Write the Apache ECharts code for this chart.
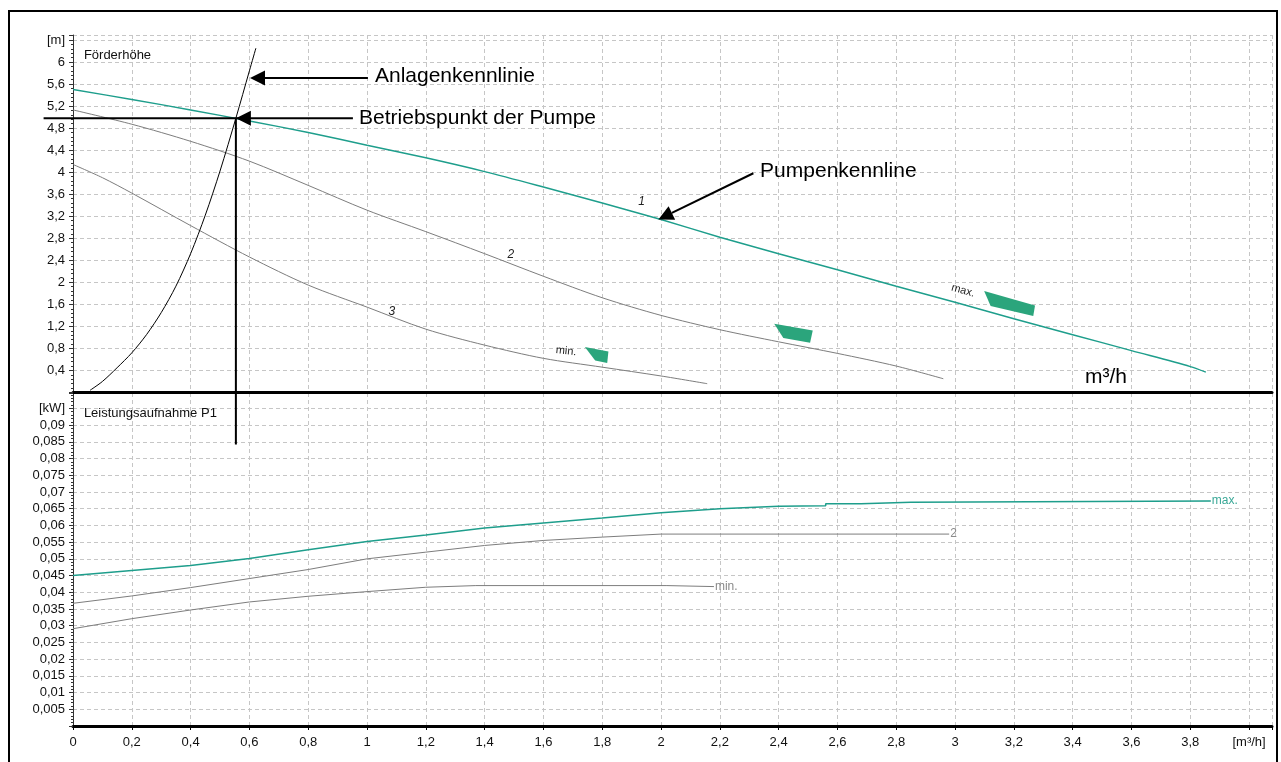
<!DOCTYPE html>
<html><head><meta charset="utf-8">
<script src="https://cdn.jsdelivr.net/npm/echarts@6/dist/echarts.min.js"></script>
<style>html,body{margin:0;padding:0;background:#fff}#c{width:1281px;height:762px}</style>
</head><body><div id="c"></div>
<script>
// ---------- axis / tick label data ----------
const xUnitLabel = '[m³/h]';
const headUnitLabel = '[m]';
const powerUnitLabel = '[kW]';
const headTitle = 'Förderhöhe';
const powerTitle = 'Leistungsaufnahme P1';

// ---------- pump curves H(Q): [Q m³/h, H m] ----------
const headMax = [[0,5.50],[0.2,5.32],[0.4,5.13],[0.6,4.93],[0.8,4.72],[1.0,4.49],[1.2,4.26],[1.4,4.01],[1.6,3.73],[1.8,3.44],[2.0,3.14],[2.2,2.82],[2.4,2.52],[2.6,2.23],[2.8,1.93],[3.0,1.64],[3.2,1.34],[3.4,1.05],[3.6,0.76],[3.8,0.47],[3.853,0.37]];
const head2 = [[0,5.13],[0.2,4.87],[0.4,4.56],[0.6,4.2],[0.8,3.76],[1.0,3.31],[1.2,2.92],[1.4,2.52],[1.6,2.11],[1.8,1.72],[2.0,1.4],[2.2,1.14],[2.4,0.92],[2.6,0.71],[2.8,0.48],[2.96,0.25]];
const head3 = [[0,4.14],[0.1,3.9],[0.2,3.62],[0.4,3.03],[0.6,2.46],[0.8,1.95],[1.0,1.55],[1.2,1.15],[1.4,0.86],[1.6,0.62],[1.8,0.46],[2.0,0.3],[2.157,0.16]];
const systemCurve = [[0.058,0.04],[0.1,0.2],[0.15,0.45],[0.2,0.72],[0.25,1.05],[0.3,1.45],[0.35,1.93],[0.4,2.52],[0.45,3.22],[0.5,4.02],[0.554,4.98],[0.6,5.84],[0.622,6.25]];

// ---------- power curves P1(Q): [Q m³/h, P kW] ----------
const powerMax = [[0,0.045],[0.2,0.0465],[0.4,0.048],[0.6,0.0501],[0.8,0.0527],[1.0,0.0552],[1.2,0.0571],[1.4,0.0592],[1.6,0.0607],[1.8,0.0622],[2.0,0.0638],[2.2,0.065],[2.4,0.0657],[2.56,0.0659],[2.56,0.0665],[2.68,0.0665],[2.68,0.0669],[2.85,0.0669],[2.85,0.0673],[3.87,0.0673]];
const power2 = [[0,0.0367],[0.2,0.0389],[0.4,0.0414],[0.6,0.0441],[0.8,0.0468],[1.0,0.05],[1.2,0.052],[1.4,0.054],[1.6,0.0555],[1.8,0.0565],[2.0,0.0574],[2.98,0.0574]];
const powerMin = [[0,0.0291],[0.2,0.0321],[0.4,0.0347],[0.6,0.0371],[0.8,0.0388],[1.0,0.0402],[1.2,0.0415],[1.37,0.042],[2.02,0.042],[2.02,0.0417],[2.18,0.0417]];

// ---------- efficiency markers (data coords Q,H) ----------
const effRegions = [
  [[3.099,1.842],[3.272,1.580],[3.266,1.388],[3.121,1.569]],
  [[2.385,1.248],[2.516,1.126],[2.507,0.903],[2.416,0.988]],
  [[1.741,0.825],[1.821,0.745],[1.817,0.534],[1.776,0.581]]
];

// ---------- curve labels (data coords) ----------
const headLabels = [
  {text:'1', at:[1.934,3.46]},
  {text:'2', at:[1.489,2.50]},
  {text:'3', at:[1.084,1.46]}
];
const headRangeLabels = [
  {text:'max.', at:[3.027,1.85], rot:-16},
  {text:'min.', at:[1.677,0.75], rot:-6}
];
const powerLabels = ['max.', '2', 'min.'];

// ---------- annotations (data coords) ----------
const operatingPoint = [0.554, 4.98];
const opLineLeftQ = -0.1;
const opLineRightQ = 0.952;
const opLineBottomP = 0.0842;
const opText = {text:'Betriebspunkt der Pumpe', at:[0.973, 4.98]};
const sysArrow = {tip:[0.602,5.71], tail:[1.003,5.71]};
const sysText = {text:'Anlagenkennlinie', at:[1.027,5.75]};
const pumpArrow = {tip:[1.991,3.14], tail:[2.314,3.98]};
const pumpText = {text:'Pumpenkennline', at:[2.337,4.02]};
const flowText = {text:'m³/h', at:[3.442,0.28]};
const headTitlePos = [0.037, 6.12];
const powerTitlePos = [0.037, 0.0935];

const FONT = "'Liberation Sans', Arial, Helvetica, sans-serif";
const TEAL = '#1e9e8c';
const GRAY = '#7d7d7d';
const GREEN = '#2ba57c';

function isMult(v, step){ const r = v/step; return Math.abs(r - Math.round(r)) < 1e-6; }
function fmt(v, d){ return String(+v.toFixed(d)).replace('.', ','); }

const chart = echarts.init(document.getElementById('c'), null, {renderer:'canvas'});
const split = {show:true, lineStyle:{color:'#c6c6c6', type:[4,3], width:1}};
const labelStyle = {fontFamily:FONT, fontSize:13, color:'#111'};

const lineS = (data, color, width, xi, smooth) => ({
  type:'line', data, xAxisIndex:xi, yAxisIndex:xi, symbol:'none', smooth: smooth,
  lineStyle:{color, width}, silent:true, animation:false, z:4
});

chart.setOption({
  backgroundColor:'#fff',
  animation:false,
  grid:[{left:73,right:9,top:35,height:357.5},{left:73,right:9,top:393,height:333}],
  xAxis:[
    {gridIndex:0,type:'value',min:0,max:4.078,interval:0.2,
     axisLine:{show:true,onZero:false,lineStyle:{color:'#000',width:3}},
     axisTick:{show:false},axisLabel:{show:false},splitLine:split},
    {gridIndex:1,type:'value',min:0,max:4.078,interval:0.2,
     axisLine:{show:true,onZero:false,lineStyle:{color:'#000',width:3}},
     axisTick:{show:true,length:4,lineStyle:{color:'#000'}},
     minorTick:{show:true,splitNumber:4,length:2,lineStyle:{color:'#000'}},
     axisLabel:Object.assign({margin:10,formatter:v=>{
       if(!isMult(v,0.2)) return '';
       if(Math.abs(v-4)<1e-6) return xUnitLabel;
       return fmt(v,1);
     }},labelStyle),
     splitLine:split}
  ],
  yAxis:[
    {gridIndex:0,type:'value',min:0,max:6.49,interval:0.4,
     axisLine:{show:true,lineStyle:{color:'#333',width:1}},
     axisTick:{show:true,length:4,lineStyle:{color:'#333'}},
     minorTick:{show:true,splitNumber:5,length:2,lineStyle:{color:'#333'}},
     axisLabel:Object.assign({margin:8,formatter:v=>{
       if(!isMult(v,0.4) || v<1e-9) return '';
       if(Math.abs(v-6.4)<1e-6) return headUnitLabel;
       return fmt(v,1);
     }},labelStyle),
     splitLine:split},
    {gridIndex:1,type:'value',min:0,max:0.0996,interval:0.005,
     axisLine:{show:true,lineStyle:{color:'#333',width:1}},
     axisTick:{show:true,length:4,lineStyle:{color:'#333'}},
     minorTick:{show:true,splitNumber:5,length:2,lineStyle:{color:'#333'}},
     axisLabel:Object.assign({margin:8,formatter:v=>{
       if(!isMult(v,0.005) || v<1e-9) return '';
       if(Math.abs(v-0.095)<1e-7) return powerUnitLabel;
       return fmt(v,3);
     }},labelStyle),
     splitLine:split}
  ],
  series:[
    lineS(head3, GRAY, 1, 0, 0.3),
    lineS(head2, GRAY, 1, 0, 0.3),
    lineS(headMax, TEAL, 1.5, 0, 0.3),
    lineS(systemCurve, '#000', 1, 0, 0.3),
    {type:'custom', xAxisIndex:0, yAxisIndex:0, silent:true, z:3,
     data: effRegions.map((r,i)=>[r[0][0], r[0][1], i]),
     renderItem:(params, api)=>{
       const r = effRegions[api.value(2)];
       return {type:'polygon', shape:{points:r.map(p=>api.coord(p))}, style:{fill:GREEN}};
     }},
    lineS(powerMin, GRAY, 1, 1, false),
    lineS(power2, GRAY, 1, 1, false),
    lineS(powerMax, TEAL, 1.5, 1, false)
  ]
});

// ---------- annotations through the axes' scales ----------
const P0 = p => chart.convertToPixel({gridIndex:0}, p);
const P1 = p => chart.convertToPixel({gridIndex:1}, p);
const g = [];
function text(str, pos, font, fill, align, rot, italic){
  g.push({type:'text', x:pos[0], y:pos[1], rotation:(rot||0)*Math.PI/180, z:60,
    style:{text:str, x:0, y:0, font:(italic?'italic ':'')+font+' '+FONT, fill:fill,
           textAlign:align||'left', textVerticalAlign:'middle'}});
}
function arrowHead(tip, tail){
  const dx = tail[0]-tip[0], dy = tail[1]-tip[1], L = Math.hypot(dx,dy);
  const ux = dx/L, uy = dy/L, len = 15, hw = 7.5;
  const bx = tip[0]+ux*len, by = tip[1]+uy*len;
  g.push({type:'polygon', z:61, shape:{points:[tip,[bx-uy*hw,by+ux*hw],[bx+uy*hw,by-ux*hw]]}, style:{fill:'#000'}});
  return [bx,by];
}
function line(a,b,w){
  g.push({type:'line', z:60, shape:{x1:a[0],y1:a[1],x2:b[0],y2:b[1]}, style:{stroke:'#000',lineWidth:w}});
}

// operating point
const op = P0(operatingPoint);
line(P0([opLineLeftQ, operatingPoint[1]]), P0([opLineRightQ, operatingPoint[1]]), 2);
arrowHead(op, P0([opLineRightQ, operatingPoint[1]]));
line(op, P1([operatingPoint[0], opLineBottomP]), 2);
text(opText.text, P0(opText.at), '21px', '#000');

// system curve arrow
{ const tip = P0(sysArrow.tip), tail = P0(sysArrow.tail);
  const b = arrowHead(tip, tail); line(b, tail, 2);
  text(sysText.text, P0(sysText.at), '21px', '#000'); }
// pump curve arrow
{ const tip = P0(pumpArrow.tip), tail = P0(pumpArrow.tail);
  const b = arrowHead(tip, tail); line(b, tail, 2);
  text(pumpText.text, P0(pumpText.at), '21px', '#000'); }
text(flowText.text, P0(flowText.at), '21px', '#000');

// titles
text(headTitle, P0(headTitlePos), '13px', '#111');
text(powerTitle, P1(powerTitlePos), '13px', '#111');

// curve labels
headLabels.forEach(l => text(l.text, P0(l.at), '12px', '#222', 'center', 0, true));
headRangeLabels.forEach(l => text(l.text, P0(l.at), '11px', '#222', 'center', l.rot, false));
const pEnds = [powerMax, power2, powerMin];
const pCols = ['#3aa897', '#8a8a8a', '#8a8a8a'];
pEnds.forEach((arr,i) => {
  const e = P1(arr[arr.length-1]);
  text(powerLabels[i], [e[0]+1, e[1]], '12px', pCols[i], 'left');
});

// outer frame
g.push({type:'rect', z:100, shape:{x:9,y:11,width:1268,height:800}, style:{fill:'transparent', stroke:'#000', lineWidth:2}});

chart.setOption({graphic:{elements:g}});
</script>
</body></html>
